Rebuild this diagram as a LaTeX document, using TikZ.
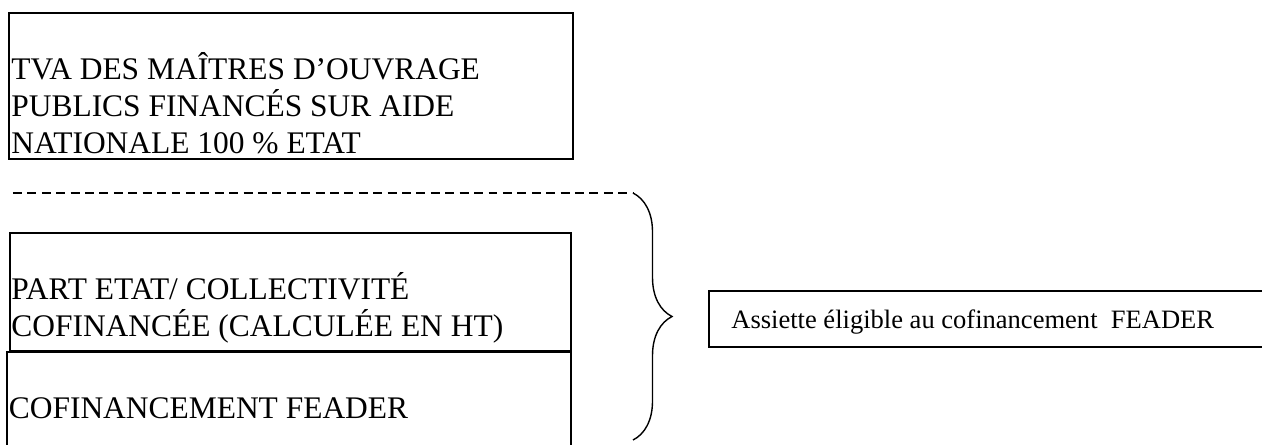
\documentclass[tikz,border=0pt]{standalone}
\usepackage{fontspec}
\setmainfont{Liberation Serif}
\usetikzlibrary{decorations.pathreplacing}
\tikzset{
	bigtext/.style={inner sep=0, align=left, font=\fontsize{17.9pt}{21pt}\selectfont},
	smalltext/.style={inner sep=0, font=\fontsize{15.1pt}{17.4pt}\selectfont},
	boxline/.style={line width=0.9pt},
}

\begin{document}
\begin{tikzpicture}
			%%%%% START %%%%%
			\useasboundingbox (0, 0) rectangle (25.24, 8.88);
			
			\draw[boxline] (0.18, 8.62) rectangle (11.46, 5.70);
			\node[bigtext, anchor=west] (tva) at (0.22, 6.82) {TVA DES MAÎTRES D’OUVRAGE\\PUBLICS FINANCÉS SUR AIDE\\NATIONALE 100 \% ETAT};
			
			\coordinate (dashstart) at (0.26, 5.02);
			\coordinate (bracetop) at (12.66, 5.02);
			\coordinate (bracebot) at (12.66, 0.08);
			\draw[line width=0.8pt, dash pattern=on 5.1pt off 3.1pt] (dashstart) -- (bracetop);
			\draw[line width=0.8pt, decorate, decoration={brace, amplitude=0.78cm}] (bracetop) -- (bracebot);
			
			\draw[boxline] (0.20, 4.22) rectangle (11.42, 1.86);
			\node[bigtext, anchor=west] (part) at (0.22, 2.72) {PART ETAT/ COLLECTIVITÉ\\COFINANCÉE (CALCULÉE EN HT)};
			
			\draw[boxline] (0.14, -0.5) -- (0.14, 1.84) -- (11.42, 1.84) -- (11.42, -0.5);
			\node[bigtext, anchor=base west] (cofin) at (0.17, 0.52) {COFINANCEMENT FEADER};
			
			\draw[boxline] (25.5, 3.06) -- (14.18, 3.06) -- (14.18, 1.94) -- (25.5, 1.94);
			\node[smalltext, anchor=base west] (assiette) at (14.62, 2.32) {Assiette éligible au cofinancement~~FEADER};
			
			%%%%% END %%%%%
\end{tikzpicture}
\end{document}
